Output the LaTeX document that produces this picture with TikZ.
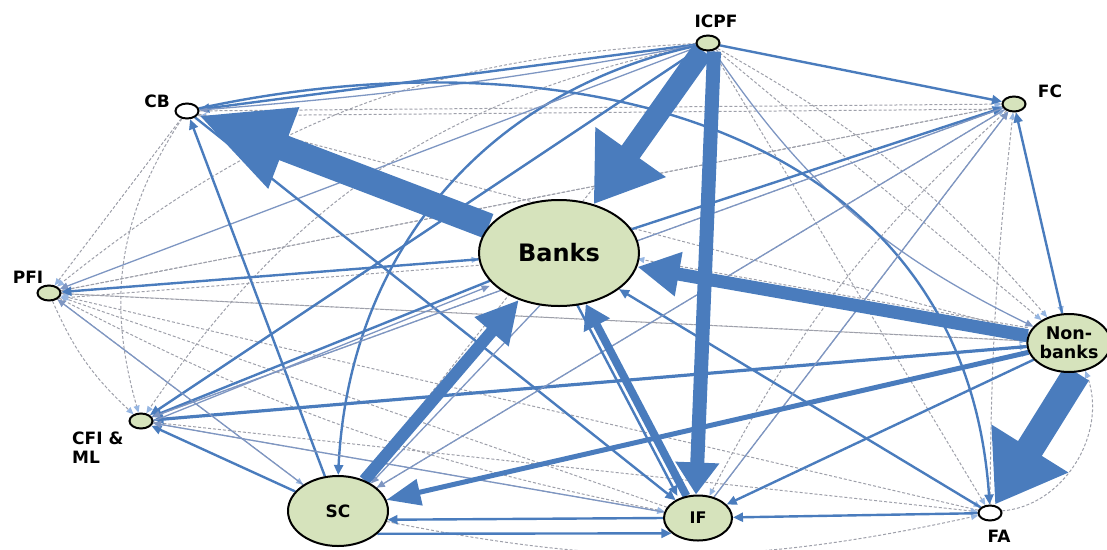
\documentclass[tikz,border=0pt]{standalone}
\usepackage{fontspec}
\setmainfont{DejaVu Sans}
\usetikzlibrary{arrows.meta,shapes.geometric,bending}
\definecolor{edgeblue}{RGB}{74,124,189}
\definecolor{paleblue}{RGB}{126,150,194}
\definecolor{dashgray}{RGB}{158,160,170}
\definecolor{tipblue}{RGB}{150,182,226}
\definecolor{nodegreen}{RGB}{214,227,188}
\pgfdeclarelayer{edges}
\pgfsetlayers{edges,main}
\tikzset{
  inst/.style={ellipse, draw=black, line width=2pt, fill=nodegreen, inner sep=0pt},
  hollow/.style={inst, fill=white},
  small/.style={minimum width=23pt, minimum height=15pt},
  lbl/.style={font=\fontsize{17}{19}\selectfont\bfseries, inner sep=0pt},
  heavy/.style={draw=edgeblue, line width=#1},
  medium/.style={draw=edgeblue, line width=2.4pt, -{Triangle[length=10pt,width=9pt]}},
  light/.style={draw=paleblue, line width=1.3pt, -{Triangle[length=8pt,width=7pt]}},
  faint/.style={draw=dashgray, line width=1pt, dash pattern=on 3pt off 2pt,
                -{Triangle[length=7pt,width=6pt,color=tipblue]}},
}
\begin{document}
\begin{tikzpicture}[x=1pt,y=-1pt]
\useasboundingbox (0,0) rectangle (1107,549);

% institutions
\node[inst, minimum width=160pt, minimum height=106pt,
      font=\fontsize{24}{26}\selectfont\bfseries] (banks) at (559,253) {Banks};
\node[inst, small] (icpf) at (708,43) {};
\node[hollow, small] (cb) at (187,111) {};
\node[inst, small] (fc) at (1014,104) {};
\node[inst, small] (pfi) at (49,293) {};
\node[inst, small] (cfi) at (141,421) {};
\node[inst, minimum width=72pt, minimum height=58pt, align=center,
      font=\fontsize{17.5}{19}\selectfont\bfseries] (nonbanks) at (1069,343) {Non-\\banks};
\node[inst, minimum width=100pt, minimum height=70pt,
      font=\fontsize{17}{19}\selectfont\bfseries] (sc) at (338,511) {SC};
\node[inst, minimum width=68pt, minimum height=45pt,
      font=\fontsize{16}{18}\selectfont\bfseries] (ifn) at (698,518) {IF};
\node[hollow, small] (fa) at (990,513) {};

% labels of the small institutions
\node[lbl] (icpf-l) at (716,21) {ICPF};
\node[lbl] (cb-l) at (157,101) {CB};
\node[lbl] (fc-l) at (1050,91) {FC};
\node[lbl] (pfi-l) at (28,277) {PFI};
\node[lbl, align=left, anchor=north west] (cfi-l) at (72,432) {CFI \&\\ML};
\node[lbl] (fa-l) at (999,536) {FA};

\begin{pgfonlayer}{edges}
% minor flows (dashed)
\draw[faint] (cb) -- (fc);
\draw[faint, transform canvas={yshift=-5pt}] (fc) -- (cb);
\draw[faint] (fc) -- (pfi);
\draw[faint] (nonbanks) -- (pfi);
\draw[faint] (fa) -- (pfi);
\draw[faint] (ifn) -- (pfi);
\draw[faint, transform canvas={yshift=-6pt}] (banks) -- (pfi);
\draw[faint] (icpf) to[bend right=18] (pfi);
\draw[faint] (cb) -- (pfi);
\draw[faint] (cb) to[bend right=25] (cfi);
\draw[faint] (icpf) to[bend right=22] (cfi);
\draw[faint] (pfi) to[bend right=12] (cfi);
\draw[faint] (pfi) -- (sc);
\draw[faint] (icpf) -- (fa);
\draw[faint] (icpf) -- (sc);
\draw[faint] (icpf) to[bend left=10] (nonbanks);
\draw[faint] (fa) to[bend left=3] (fc);
\draw[faint] (ifn) -- (fc);
\draw[faint] (cfi) -- (fc);
\draw[faint] (sc) -- (fc);
\draw[faint] (pfi) -- (fc);
\draw[faint] (banks) -- (fc);
\draw[faint] (fc) -- (nonbanks);
\draw[faint] (fa) to[bend right=55] (nonbanks);
\draw[faint] (sc) to[bend right=12] (fa);
\draw[faint] (cfi) -- (ifn);
\draw[faint] (pfi) to[bend right=8] (ifn);
\draw[faint] (cb) -- (ifn);
\draw[faint] (cb) -- (nonbanks);
\draw[faint] (pfi) -- (nonbanks);
\draw[faint] (cfi) -- (nonbanks);
\draw[faint] (cfi) -- (fa);
\draw[faint] (sc) -- (nonbanks);
\draw[faint, transform canvas={yshift=8pt}] (nonbanks) -- (banks);
\draw[faint] (banks) -- (fa);
\draw[faint] (cb) -- (banks);
\draw[faint] (pfi) -- (banks);
\draw[faint] (icpf) -- (nonbanks);
\draw[faint] (fc) to[bend right=10] (ifn);

% solid flows
\draw[medium] (icpf) -- (cb);
\draw[light] (icpf) to[bend left=3] (cb);
\draw[medium] (icpf) to[bend right=38] (sc);
\draw[medium] (icpf) -- (cfi);
\draw[medium] (icpf) -- (fc);
\draw[light] (icpf) -- (pfi);
\draw[light] (icpf) to[bend right=15] (nonbanks);
\draw[medium] (sc) -- (cb);
\draw[medium] (cb) -- (ifn);
\draw[medium] (cb) .. controls (560,30) and (970,120) .. (fa);
\draw[medium, line width=3.2pt] (nonbanks) -- (cfi);
\draw[medium] (nonbanks) -- (fc);
\draw[medium] (nonbanks) -- (ifn);
\draw[medium] (banks) -- (pfi);
\draw[medium] (banks) -- (cfi);
\draw[light, transform canvas={yshift=-5pt}] (cfi) -- (banks);
\draw[medium] (banks) -- (fc);
\draw[medium] (fa) -- (banks);
\draw[medium] (ifn.west) -- (sc.-10);
\draw[medium] (sc.-30) -- (ifn.210);
\draw[medium] (fa) -- (ifn);
\draw[medium] (sc) -- (cfi);
\draw[light] (sc) -- (pfi);
\draw[light] (banks.250) -- (sc.40);
\draw[light] (fc) -- (sc);
\draw[light] (ifn) -- (fc);
\draw[light] (fc) -- (cfi);
\draw[light] (ifn) -- (cfi);

% major flows
\draw[heavy=26pt, -{Triangle[length=92pt,width=80pt]}] (banks) -- (cb);
\draw[heavy=22pt, -{Triangle[length=64pt,width=82pt]}] (icpf) -- (banks);
\draw[heavy=14pt, -{Triangle[length=32pt,width=42pt]}] ([xshift=6pt]icpf.south) -- ([xshift=-2pt]ifn.north);
\draw[heavy=13pt, -{Triangle[length=42pt,width=42pt]}] (nonbanks) -- (banks);
\draw[heavy=28pt, -{Triangle[length=66pt,width=86pt]}] ([xshift=8pt]nonbanks.south) -- ([xshift=5pt]fa.north);
\draw[heavy=12pt, -{Triangle[length=42pt,width=42pt]}] (sc) -- (banks);
\draw[heavy=5pt, -{Triangle[length=34pt,width=26pt]}] (nonbanks) -- (sc);
\draw[heavy=8pt, -{Triangle[length=24pt,width=28pt]}] (ifn) -- (banks);
\draw[medium, transform canvas={xshift=-9pt}] (banks) -- (ifn);
\end{pgfonlayer}
\end{tikzpicture}
\end{document}
